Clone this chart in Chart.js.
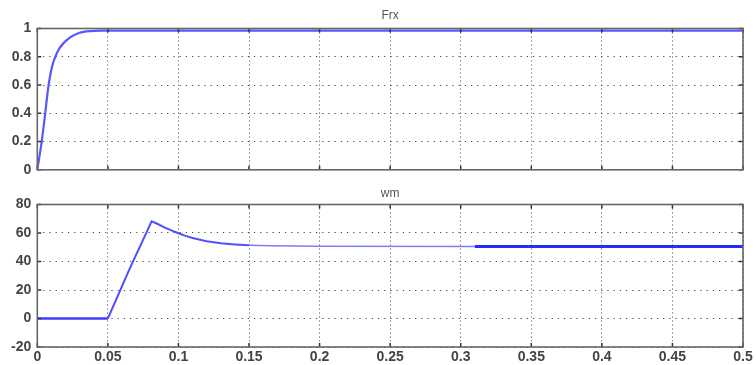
<!DOCTYPE html>
<html>
<head>
<meta charset="utf-8">
<script src="https://cdn.jsdelivr.net/npm/chart.js@4"></script>
<style>
  html, body { margin: 0; padding: 0; background: #fff; }
  #wrap { position: relative; width: 756px; height: 365px; overflow: hidden; }
  canvas { position: absolute; left: 0; }
</style>
</head>
<body>
<div id="wrap">
  <canvas id="frx" width="756" height="190" style="top:0"></canvas>
  <canvas id="wm" width="756" height="185" style="top:180px"></canvas>
</div>
<script>
// values
const frxTime = [0, 0.003, 0.0055, 0.008, 0.011, 0.016, 0.023, 0.03, 0.037, 0.045, 0.5];
const frxValue = [0, 0.19, 0.39, 0.6, 0.75, 0.865, 0.935, 0.97, 0.982, 0.985, 0.985];

const wmTime = [0, 0.05, 0.065, 0.081, 0.085, 0.09, 0.095, 0.1, 0.105, 0.11, 0.12, 0.13, 0.14, 0.15, 0.165, 0.2, 0.31, 0.5];
const wmValue = [0, 0, 34, 68.2, 66.5, 64, 61.8, 59.8, 58, 56.5, 54.2, 52.8, 52, 51.4, 51, 50.7, 50.6, 50.6];

const xTickValues = [0, 0.05, 0.1, 0.15, 0.2, 0.25, 0.3, 0.35, 0.4, 0.45, 0.5];
const xTickLabels = ["0", "0.05", "0.1", "0.15", "0.2", "0.25", "0.3", "0.35", "0.4", "0.45", "0.5"];
const frxTickValues = [0, 0.2, 0.4, 0.6, 0.8, 1];
const frxTickLabels = ["0", "0.2", "0.4", "0.6", "0.8", "1"];
const wmTickValues = [-20, 0, 20, 40, 60, 80];
const wmTickLabels = ["-20", "0", "20", "40", "60", "80"];

const tickFont = { family: "'Liberation Sans', Arial, sans-serif", size: 14, weight: "bold" };

// box, inner tick marks and title, matlab style
const framePlugin = {
  id: "frame",
  afterDraw(chart, args, opts) {
    const { ctx, chartArea: a, scales } = chart;
    ctx.save();
    ctx.strokeStyle = "#333";
    ctx.lineWidth = 1.5;
    ctx.beginPath();
    scales.x.ticks.forEach((t) => {
      const px = scales.x.getPixelForValue(t.value);
      ctx.moveTo(px, a.top); ctx.lineTo(px, a.top + 4);
      ctx.moveTo(px, a.bottom); ctx.lineTo(px, a.bottom - 4);
    });
    scales.y.ticks.forEach((t) => {
      const py = scales.y.getPixelForValue(t.value);
      ctx.moveTo(a.left, py); ctx.lineTo(a.left + 4, py);
      ctx.moveTo(a.right, py); ctx.lineTo(a.right - 4, py);
    });
    ctx.stroke();
    ctx.strokeStyle = "#666";
    ctx.lineWidth = 1.6;
    ctx.strokeRect(a.left, a.top, a.right - a.left, a.bottom - a.top);
    ctx.fillStyle = "#555";
    ctx.font = "12px 'Liberation Sans', Arial, sans-serif";
    ctx.textAlign = "center";
    ctx.textBaseline = "alphabetic";
    ctx.fillText(opts.title, (a.left + a.right) / 2, a.top - opts.titleGap);
    ctx.restore();
  },
};

function makeOptions(cfg) {
  return {
    responsive: false,
    animation: false,
    layout: { padding: { top: cfg.top, left: 0, right: 13, bottom: 0 } },
    plugins: {
      legend: { display: false },
      tooltip: { enabled: false },
      frame: { title: cfg.title, titleGap: cfg.titleGap },
    },
    scales: {
      x: {
        type: "linear",
        min: 0,
        max: 0.5,
        afterBuildTicks: (s) => { s.ticks = xTickValues.map((v) => ({ value: v })); },
        afterFit: (s) => { s.height = cfg.xHeight; },
        ticks: {
          display: cfg.showX,
          padding: 2,
          color: "#444",
          font: tickFont,
          callback: (v, i) => xTickLabels[i],
        },
        grid: { color: "#444", lineWidth: 1, drawTicks: false },
        border: { display: false, dash: [1, 3] },
      },
      y: {
        min: cfg.yMin,
        max: cfg.yMax,
        afterBuildTicks: (s) => { s.ticks = cfg.yTicks.map((v) => ({ value: v })); },
        afterFit: (s) => { s.width = 37.3; },
        ticks: {
          padding: 6,
          color: "#444",
          font: tickFont,
          callback: (v, i) => cfg.yLabels[i],
        },
        grid: { color: "#444", lineWidth: 1, drawTicks: false },
        border: { display: false, dash: [1.2, 5] },
      },
    },
  };
}

new Chart(document.getElementById("frx"), {
  type: "line",
  data: {
    datasets: [{
      data: frxTime.map((t, i) => ({ x: t, y: frxValue[i] })),
      borderColor: "#5858ff",
      borderWidth: 2.2,
      pointRadius: 0,
      tension: 0.3,
      fill: false,
    }],
  },
  options: makeOptions({
    top: 28.5, xHeight: 20.2, showX: false, title: "Frx", titleGap: 10,
    yMin: 0, yMax: 1, yTicks: frxTickValues, yLabels: frxTickLabels,
  }),
  plugins: [framePlugin],
});

new Chart(document.getElementById("wm"), {
  type: "line",
  data: {
    datasets: [{
      data: wmTime.map((t, i) => ({ x: t, y: wmValue[i] })),
      borderColor: "#5050ff",
      borderWidth: 2,
      pointRadius: 0,
      tension: 0,
      fill: false,
      segment: {
        borderWidth: (c) => {
          const x = c.p0.parsed.x;
          if (x < 0.05) return 2.6;
          if (x >= 0.31) return 3;
          if (x >= 0.15) return 1.5;
          return 2;
        },
        borderColor: (c) => {
          const x = c.p0.parsed.x;
          if (x < 0.05) return "#3c3cff";
          if (x >= 0.31) return "#2a2aff";
          if (x >= 0.15) return "#7c7cff";
          return "#5050ff";
        },
      },
    }],
  },
  options: makeOptions({
    top: 24.5, xHeight: 18, showX: true, title: "wm", titleGap: 8,
    yMin: -20, yMax: 80, yTicks: wmTickValues, yLabels: wmTickLabels,
  }),
  plugins: [framePlugin],
});
</script>
</body>
</html>
